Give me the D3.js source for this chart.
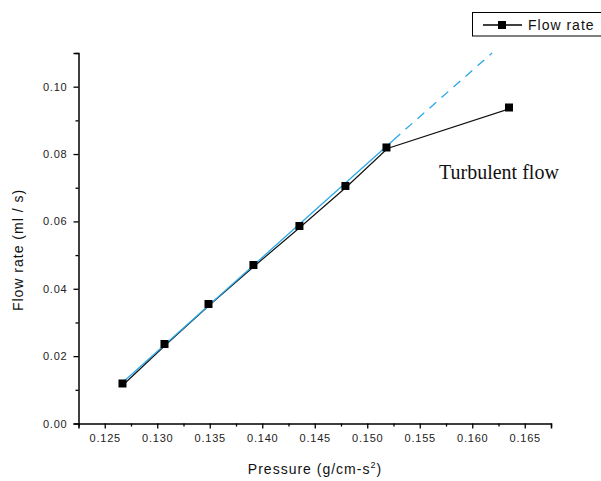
<!DOCTYPE html>
<html><head><meta charset="utf-8">
<script src="https://cdn.jsdelivr.net/npm/d3@7/dist/d3.min.js"></script>
<style>
body{margin:0;background:#fff;}
svg{display:block;font-family:"Liberation Sans",Arial,sans-serif;}
</style></head>
<body><svg id="c" width="601" height="481"></svg>
<script>
const pressure = [0.12669, 0.13069, 0.13488, 0.13916, 0.14354, 0.14792, 0.15183, 0.16350];
const flowRate = [0.01188, 0.02360, 0.03548, 0.04706, 0.05864, 0.07052, 0.08195, 0.09382];
const fitSolidX = [0.12643, 0.15250];
const fitSolidY = [0.01143, 0.08420];
const fitDashX = [0.15250, 0.16189];
const fitDashY = [0.08420, 0.11000];
const xTicks = [0.125, 0.130, 0.135, 0.140, 0.145, 0.150, 0.155, 0.160, 0.165];
const yTicks = [0.00, 0.02, 0.04, 0.06, 0.08, 0.10];
const xMinor = [0.1225,0.1275,0.1325,0.1375,0.1425,0.1475,0.1525,0.1575,0.1625,0.1675];
const yMinor = [0.01,0.03,0.05,0.07,0.09,0.11];
const seriesName = "Flow rate";
const xTitle = "Pressure (g/cm-s";
const yTitle = "Flow rate (ml / s)";
const note = "Turbulent flow";

const svg = d3.select("#c");
const L = 78.5, R = 551, T = 53, B = 423.5;
const x = d3.scaleLinear().domain([0.1225, 0.1675]).range([L, R]);
const y = d3.scaleLinear().domain([0, 0.11]).range([B, T]);

// axes
const xAxis = svg.append("g").attr("transform", `translate(0,${B})`)
  .call(d3.axisBottom(x).tickValues(xTicks).tickFormat(d3.format(".3f")).tickSize(5).tickPadding(6));
const xAxisMinor = svg.append("g").attr("transform", `translate(0,${B})`)
  .call(d3.axisBottom(x).tickValues(xMinor).tickFormat("").tickSize(3));
const yAxis = svg.append("g").attr("transform", `translate(${L},0)`)
  .call(d3.axisLeft(y).tickValues(yTicks).tickFormat(d3.format(".2f")).tickSize(5).tickPadding(6));
const yAxisMinor = svg.append("g").attr("transform", `translate(${L},0)`)
  .call(d3.axisLeft(y).tickValues(yMinor).tickFormat("").tickSize(3));
[xAxis, xAxisMinor, yAxis, yAxisMinor].forEach(g => {
  g.select(".domain").attr("stroke", "#000").attr("stroke-width", 1.5);
  g.selectAll(".tick line").attr("stroke", "#000").attr("stroke-width", 1.3);
  g.selectAll(".tick text").attr("fill", "#222").style("font-size", "11px")
    .style("letter-spacing", "0.8px").style("font-family", "'Liberation Sans',Arial,sans-serif");
});
xAxisMinor.select(".domain").remove();
yAxisMinor.select(".domain").remove();

// data line
const pts = pressure.map((p, i) => [p, flowRate[i]]);
const line = d3.line().x(d => x(d[0])).y(d => y(d[1]));
svg.append("path").datum(pts).attr("d", line)
  .attr("fill", "none").attr("stroke", "#111").attr("stroke-width", 1.2)
  .attr("transform", "translate(1,1)");

// fit line
const fs = fitSolidX.map((v, i) => [v, fitSolidY[i]]);
const fd = fitDashX.map((v, i) => [v, fitDashY[i]]);
svg.append("path").datum(fs).attr("d", line)
  .attr("fill", "none").attr("stroke", "#2aa8e8").attr("stroke-width", 1.3);
svg.append("path").datum(fd).attr("d", line)
  .attr("fill", "none").attr("stroke", "#2aa8e8").attr("stroke-width", 1.3)
  .attr("stroke-dasharray", "9,7");

// markers
const ms = 8;
svg.append("g").selectAll("rect").data(pts).join("rect")
  .attr("x", d => x(d[0]) - ms / 2).attr("y", d => y(d[1]) - ms / 2)
  .attr("width", ms).attr("height", ms).attr("fill", "#000");

// annotation
svg.append("text").attr("x", 439).attr("y", 179)
  .style("font-family", "'Liberation Serif','Times New Roman',serif").style("font-size", "20px")
  .attr("fill", "#111").text(note);

// axis titles
const xt = svg.append("text").attr("x", 315).attr("y", 474).attr("text-anchor", "middle")
  .style("font-size", "14px").style("letter-spacing", "1px").attr("fill", "#111");
xt.append("tspan").text(xTitle);
xt.append("tspan").attr("dy", -6).style("font-size", "9px").text("2");
xt.append("tspan").attr("dy", 6).text(")");

svg.append("text").attr("transform", "translate(23,250) rotate(-90)").attr("text-anchor", "middle")
  .style("font-size", "14px").style("letter-spacing", "1px").attr("fill", "#111").text(yTitle);

// legend
svg.append("rect").attr("x", 472.5).attr("y", 12.5).attr("width", 140).attr("height", 23.5)
  .attr("fill", "#fff").attr("stroke", "#000").attr("stroke-width", 1);
svg.append("line").attr("x1", 483).attr("x2", 522).attr("y1", 25).attr("y2", 25)
  .attr("stroke", "#000").attr("stroke-width", 1.3);
svg.append("rect").attr("x", 498).attr("y", 21).attr("width", 8).attr("height", 8).attr("fill", "#000");
svg.append("text").attr("x", 528).attr("y", 30).style("font-size", "14px")
  .style("letter-spacing", "1px").attr("fill", "#111").text(seriesName);
</script></body></html>
